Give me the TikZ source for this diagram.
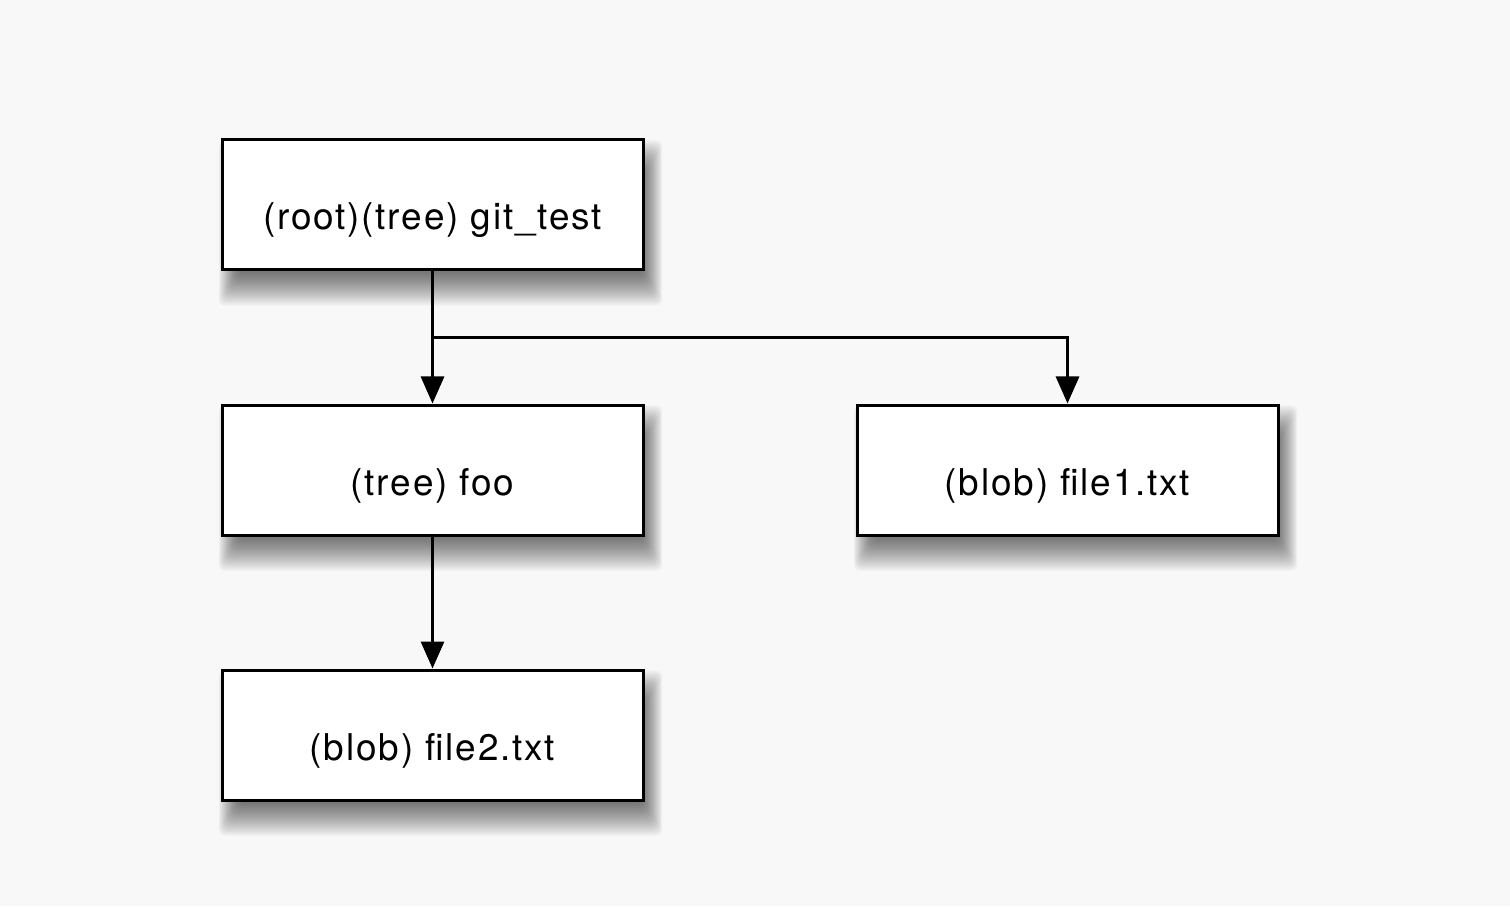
\documentclass[tikz,border=0pt]{standalone}
\usepackage{fontspec}
\usepackage{xcolor}
\usepackage{tikz}
\usetikzlibrary{positioning}
\usetikzlibrary{calc}
\usetikzlibrary{arrows.meta}
\newfontfamily\boxfont[LetterSpace=5]{TeX Gyre Heros}
\definecolor{paper}{RGB}{248,248,248}
\pgfdeclarelayer{paperlayer}
\pgfdeclarelayer{shadowlayer}
\pgfsetlayers{paperlayer,shadowlayer,main}
\tikzset{
    gitobj/.style={draw, fill=white, line width=0.03cm, minimum width=4.21cm, minimum height=1.3cm,
        inner sep=0pt, text height=0.5cm, text depth=0pt, font=\boxfont\fontsize{10.5}{12}\selectfont},
    link/.style={line width=0.03cm, -{Triangle[width=0.23cm,length=0.27cm]}}
}

\begin{document}
\begin{tikzpicture}
        \begin{pgfonlayer}{paperlayer}
            \fill [paper] (0, 0) rectangle (15.10, 9.06);
        \end{pgfonlayer}
        \node [gitobj] (root) at (4.325, 7.01) {(root)(tree) git\_test};
        \node [gitobj, below=1.32cm of root] (foo) {(tree) foo};
        \node [gitobj, below=1.32cm of foo] (file2) {(blob) file2.txt};
        \node [gitobj, right=2.11cm of foo] (file1) {(blob) file1.txt};
        \coordinate (fork) at ($(root.south)!0.5!(foo.north)$);
        \begin{pgfonlayer}{shadowlayer}
            \foreach \n in {root, foo, file1, file2} {
                \foreach \r in {-16,-14,...,16} {
                    \fill [black, opacity=0.04, rounded corners=0.06cm]
                        ([shift={(0.08+0.6*\r/100, -0.18+\r/100)}]\n.south west)
                        rectangle ([shift={(0.08-0.6*\r/100, -0.18-\r/100)}]\n.north east);
                }
            }
        \end{pgfonlayer}
        \draw [link] (root) to (foo);
        \draw [link] (fork) -| (file1);
        \draw [link] (foo) to (file2);
    \end{tikzpicture}
\end{document}
